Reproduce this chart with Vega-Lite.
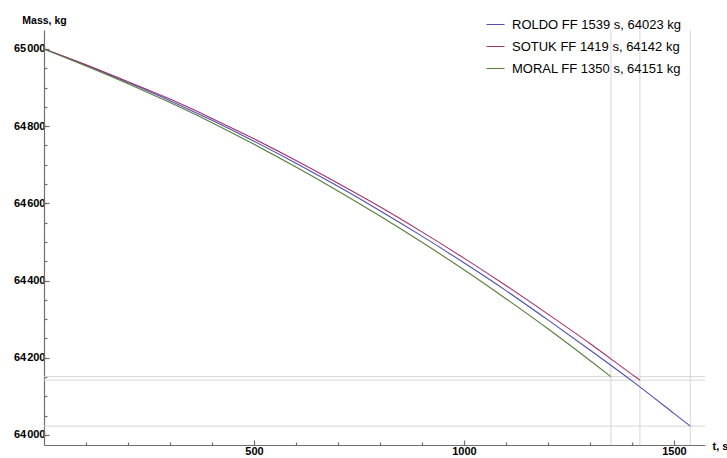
{
  "$schema": "https://vega.github.io/schema/vega-lite/v6.json",
  "width": 661,
  "height": 415,
  "autosize": {"type": "none"},
  "padding": {"left": 44, "top": 30, "right": 22, "bottom": 13},
  "config": {
    "view": {"stroke": null},
    "font": "Liberation Sans",
    "axis": {"grid": false, "domainColor": "#6e6e6e", "tickColor": "#6e6e6e", "domainWidth": 1.2, "tickWidth": 1.2}
  },
  "datasets": {
    "traj": [
      {"series": "ROLDO FF 1539 s, 64023 kg", "t": 0, "m": 65000},
      {"series": "ROLDO FF 1539 s, 64023 kg", "t": 100, "m": 64958},
      {"series": "ROLDO FF 1539 s, 64023 kg", "t": 200, "m": 64913},
      {"series": "ROLDO FF 1539 s, 64023 kg", "t": 300, "m": 64866},
      {"series": "ROLDO FF 1539 s, 64023 kg", "t": 400, "m": 64815},
      {"series": "ROLDO FF 1539 s, 64023 kg", "t": 500, "m": 64761},
      {"series": "ROLDO FF 1539 s, 64023 kg", "t": 600, "m": 64704},
      {"series": "ROLDO FF 1539 s, 64023 kg", "t": 700, "m": 64644},
      {"series": "ROLDO FF 1539 s, 64023 kg", "t": 800, "m": 64581},
      {"series": "ROLDO FF 1539 s, 64023 kg", "t": 900, "m": 64515},
      {"series": "ROLDO FF 1539 s, 64023 kg", "t": 1000, "m": 64446},
      {"series": "ROLDO FF 1539 s, 64023 kg", "t": 1100, "m": 64374},
      {"series": "ROLDO FF 1539 s, 64023 kg", "t": 1200, "m": 64298},
      {"series": "ROLDO FF 1539 s, 64023 kg", "t": 1300, "m": 64220},
      {"series": "ROLDO FF 1539 s, 64023 kg", "t": 1400, "m": 64140},
      {"series": "ROLDO FF 1539 s, 64023 kg", "t": 1500, "m": 64056},
      {"series": "ROLDO FF 1539 s, 64023 kg", "t": 1539, "m": 64023},
      {"series": "SOTUK FF 1419 s, 64142 kg", "t": 0, "m": 65000},
      {"series": "SOTUK FF 1419 s, 64142 kg", "t": 100, "m": 64959},
      {"series": "SOTUK FF 1419 s, 64142 kg", "t": 200, "m": 64915},
      {"series": "SOTUK FF 1419 s, 64142 kg", "t": 300, "m": 64870},
      {"series": "SOTUK FF 1419 s, 64142 kg", "t": 400, "m": 64820},
      {"series": "SOTUK FF 1419 s, 64142 kg", "t": 500, "m": 64767},
      {"series": "SOTUK FF 1419 s, 64142 kg", "t": 600, "m": 64711},
      {"series": "SOTUK FF 1419 s, 64142 kg", "t": 700, "m": 64652},
      {"series": "SOTUK FF 1419 s, 64142 kg", "t": 800, "m": 64591},
      {"series": "SOTUK FF 1419 s, 64142 kg", "t": 900, "m": 64526},
      {"series": "SOTUK FF 1419 s, 64142 kg", "t": 1000, "m": 64458},
      {"series": "SOTUK FF 1419 s, 64142 kg", "t": 1100, "m": 64387},
      {"series": "SOTUK FF 1419 s, 64142 kg", "t": 1200, "m": 64313},
      {"series": "SOTUK FF 1419 s, 64142 kg", "t": 1300, "m": 64237},
      {"series": "SOTUK FF 1419 s, 64142 kg", "t": 1400, "m": 64157},
      {"series": "SOTUK FF 1419 s, 64142 kg", "t": 1419, "m": 64142},
      {"series": "MORAL FF 1350 s, 64151 kg", "t": 0, "m": 65000},
      {"series": "MORAL FF 1350 s, 64151 kg", "t": 100, "m": 64956},
      {"series": "MORAL FF 1350 s, 64151 kg", "t": 200, "m": 64910},
      {"series": "MORAL FF 1350 s, 64151 kg", "t": 300, "m": 64861},
      {"series": "MORAL FF 1350 s, 64151 kg", "t": 400, "m": 64809},
      {"series": "MORAL FF 1350 s, 64151 kg", "t": 500, "m": 64753},
      {"series": "MORAL FF 1350 s, 64151 kg", "t": 600, "m": 64694},
      {"series": "MORAL FF 1350 s, 64151 kg", "t": 700, "m": 64632},
      {"series": "MORAL FF 1350 s, 64151 kg", "t": 800, "m": 64567},
      {"series": "MORAL FF 1350 s, 64151 kg", "t": 900, "m": 64499},
      {"series": "MORAL FF 1350 s, 64151 kg", "t": 1000, "m": 64428},
      {"series": "MORAL FF 1350 s, 64151 kg", "t": 1100, "m": 64353},
      {"series": "MORAL FF 1350 s, 64151 kg", "t": 1200, "m": 64275},
      {"series": "MORAL FF 1350 s, 64151 kg", "t": 1300, "m": 64193},
      {"series": "MORAL FF 1350 s, 64151 kg", "t": 1350, "m": 64151}
    ],
    "ends": [
      {"series": "ROLDO FF 1539 s, 64023 kg", "t": 1539, "m": 64023},
      {"series": "SOTUK FF 1419 s, 64142 kg", "t": 1419, "m": 64142},
      {"series": "MORAL FF 1350 s, 64151 kg", "t": 1350, "m": 64151}
    ]
  },
  "resolve": {"scale": {"x": "shared", "y": "shared"}, "axis": {"x": "independent", "y": "independent"}},
  "layer": [
    {
      "data": {"name": "ends"},
      "mark": {"type": "rule", "color": "#d6d6d6", "strokeWidth": 1},
      "encoding": {
        "x": {
          "field": "t", "type": "quantitative",
          "scale": {"domain": [0, 1574], "nice": false, "zero": false},
          "axis": {"orient": "bottom", "values": [100, 200, 300, 400, 600, 700, 800, 900, 1100, 1200, 1300, 1400], "labels": false, "domain": false, "tickSize": -3, "title": null}
        }
      }
    },
    {
      "data": {"name": "ends"},
      "mark": {"type": "rule", "color": "#d6d6d6", "strokeWidth": 1},
      "encoding": {
        "y": {
          "field": "m", "type": "quantitative",
          "scale": {"domain": [63974, 65049], "nice": false, "zero": false},
          "axis": {"orient": "left", "values": [64050, 64100, 64150, 64250, 64300, 64350, 64450, 64500, 64550, 64650, 64700, 64750, 64850, 64900, 64950], "labels": false, "domain": false, "tickSize": -3, "title": null}
        }
      }
    },
    {
      "data": {"name": "traj"},
      "mark": {"type": "line", "strokeWidth": 1.1, "interpolate": "monotone"},
      "encoding": {
        "x": {
          "field": "t", "type": "quantitative",
          "scale": {"domain": [0, 1574], "nice": false, "zero": false},
          "axis": {
            "orient": "bottom", "values": [500, 1000, 1500], "format": "d", "tickSize": -5, "labelPadding": 5,
            "labelFont": "Liberation Sans", "labelFontWeight": "bold", "labelFontSize": 11, "labelColor": "#000000",
            "title": "t, s", "titleFont": "Liberation Sans", "titleFontWeight": "bold", "titleFontSize": 11, "titleColor": "#000000",
            "titleAnchor": "start", "titleAlign": "left", "titleBaseline": "middle", "titleX": 668, "titleY": 1
          }
        },
        "y": {
          "field": "m", "type": "quantitative",
          "scale": {"domain": [63974, 65049], "nice": false, "zero": false},
          "axis": {
            "orient": "left", "values": [64000, 64200, 64400, 64600, 64800, 65000], "tickSize": -5, "labelPadding": 4,
            "labelExpr": "slice(toString(datum.value), 0, 2) + '\u200a' + slice(toString(datum.value), 2)",
            "labelFont": "Liberation Sans", "labelFontWeight": "bold", "labelFontSize": 11, "labelColor": "#000000",
            "title": "Mass, kg", "titleFont": "Liberation Sans", "titleFontWeight": "bold", "titleFontSize": 10.5, "titleColor": "#000000",
            "titleAngle": 0, "titleAlign": "center", "titleBaseline": "middle", "titleX": 0, "titleY": -10
          }
        },
        "color": {
          "field": "series", "type": "nominal",
          "scale": {
            "domain": ["ROLDO FF 1539 s, 64023 kg", "SOTUK FF 1419 s, 64142 kg", "MORAL FF 1350 s, 64151 kg"],
            "range": ["#4f4fb3", "#a3326d", "#557f3c"]
          },
          "legend": {
            "orient": "none", "legendX": 442, "legendY": -15, "title": null, "padding": 0,
            "symbolType": "stroke", "symbolSize": 324, "symbolStrokeWidth": 1,
            "labelFont": "Liberation Sans", "labelFontSize": 13, "labelColor": "#000000", "labelOffset": 7,
            "rowPadding": 5, "labelLimit": 300
          }
        }
      }
    }
  ]
}
